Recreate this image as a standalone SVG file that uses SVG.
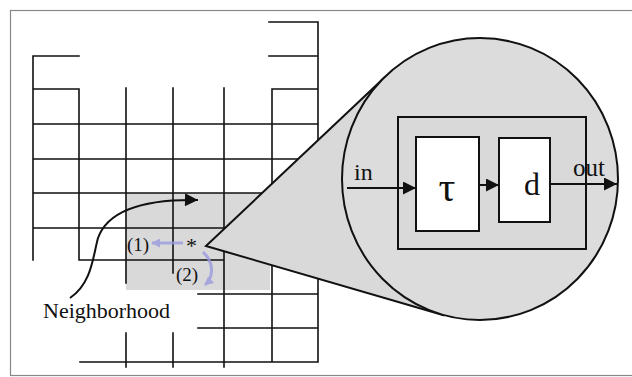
<svg xmlns="http://www.w3.org/2000/svg" width="632" height="377" viewBox="0 0 632 377">
<defs>
<style>
.g{stroke:#111;stroke-width:1.6;fill:none;stroke-linecap:square}
.t{font-family:"Liberation Serif","Times New Roman",serif;fill:#111}
.k{stroke:#111;stroke-width:2;fill:none}
.p{stroke:#9b9be0;stroke-width:3;fill:none;opacity:0.8}
</style>
<marker id="ahb" viewBox="0 0 10 10" refX="10" refY="5" markerWidth="18" markerHeight="13" markerUnits="userSpaceOnUse" orient="auto">
<path d="M0,0 L10,5 L0,10 z" fill="#111"/>
</marker>
<marker id="ahp" viewBox="0 0 10 10" refX="9" refY="5" markerWidth="9" markerHeight="9" markerUnits="userSpaceOnUse" orient="auto">
<path d="M0,0 L10,5 L0,10 z" fill="#9b9be0"/>
</marker>
</defs>
<rect x="0" y="0" width="632" height="377" fill="#fff"/>
<rect x="10.5" y="10.5" width="660" height="365" fill="#fff" stroke="#888" stroke-width="1.2"/>

<g id="neighborhood-shade">
<rect x="126" y="193" width="144" height="97" fill="#d9d9d9"/>
</g>

<g id="grid">
<path class="g" d="M33,56 H79 M33,56 V260 M33,89 H79 M79,89 V260 M79,260 H224
M269,22 H318 M318,22 V362 M269,56 H318 M272,89 H318 M272,89 V362
M126,88 V283 M126,333 V367 M173,88 V273 M173,333 V367 M224,88 V367
M33,124 H318 M33,159 H318 M33,193 H318 M33,228 H318
M198,294 H318 M198,328 H318 M80,362 H318"/>
</g>

<g id="zoom-cone">
<polygon points="206,246 384,78 443,315" fill="#d9d9d9" stroke="#111" stroke-width="2" stroke-linejoin="miter"/>
</g>

<g id="zoom-circle">
<ellipse cx="480" cy="179" rx="138" ry="141" fill="#dcdcdc" stroke="#111" stroke-width="2"/>
</g>

<g id="cell-box">
<rect x="398" y="117" width="188" height="132" fill="#d9d9d9" stroke="#111" stroke-width="2"/>
</g>
<g id="tau-box">
<rect x="416" y="137" width="63" height="94" fill="#fff" stroke="#111" stroke-width="2"/>
<text class="t" x="447" y="201" font-size="42" text-anchor="middle">τ</text>
</g>
<g id="d-box">
<rect x="499" y="138" width="51" height="84" fill="#fff" stroke="#111" stroke-width="2"/>
<text class="t" x="532" y="195" font-size="32" text-anchor="middle">d</text>
</g>

<g id="connectors">
<line class="k" x1="347" y1="188" x2="416" y2="188" marker-end="url(#ahb)"/>
<line class="k" x1="479" y1="185" x2="499" y2="185" marker-end="url(#ahb)"/>
<line class="k" x1="550" y1="184" x2="617" y2="184" marker-end="url(#ahb)"/>
<path class="k" d="M70,298 C92,283 93,256 98,238 C108,210 145,199 198,200" marker-end="url(#ahb)"/>
<line class="p" x1="183" y1="243" x2="152" y2="243" marker-end="url(#ahp)"/>
<path class="p" d="M203,252 C214,262 214,277 205,285" marker-end="url(#ahp)"/>
</g>

<g id="labels">
<text class="t" x="354" y="180" font-size="24">in</text>
<text class="t" x="573" y="176" font-size="25">out</text>
<text class="t" x="43" y="318" font-size="22">Neighborhood</text>
<text class="t" x="127" y="251" font-size="19">(1)</text>
<text class="t" x="176" y="281" font-size="19">(2)</text>
<text class="t" x="186" y="253" font-size="22">*</text>
</g>
</svg>
